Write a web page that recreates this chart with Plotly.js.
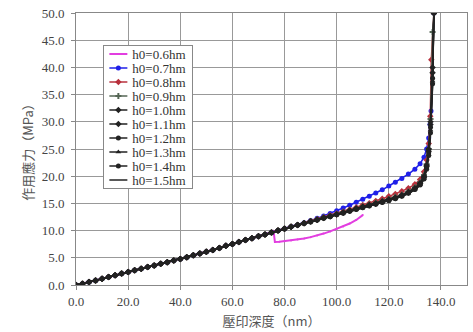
<!DOCTYPE html>
<html><head><meta charset="utf-8">
<script src="https://cdn.plot.ly/plotly-3.0.1.min.js"></script>
<style>
html,body{margin:0;padding:0;background:#fff;} #chart{width:473px;height:332px;}
/* compact legend glyphs (overrides Plotly's attributes) */
#chart .legend .legendtext{transform:translateX(-12px) !important;}
#chart .legend .legendlines path{d:path("M5,0h18") !important;}
#chart .legend .legendpoints path.scatterpts{transform:translate(14px,0px) !important;}
#chart .legend rect.bg{width:89px !important;height:143px !important;}
</style>
</head><body><div id="chart"></div>
<script>
// ---- data ----
const seriesNames = ['h0=0.6hm','h0=0.7hm','h0=0.8hm','h0=0.9hm','h0=1.0hm','h0=1.1hm','h0=1.2hm','h0=1.3hm','h0=1.4hm','h0=1.5hm'];

// common loading path shared by all series (depth nm, stress MPa)
const loadX = [0,2.5,5,7.5,10,12.5,15,17.5,20,22.5,25,27.5,30,32.5,35,37.5,40,42.5,45,47.5,50,52.5,55,57.5,60,62.5,65,67.5,70,72.5,75,77.5,80,82.5,85];
const loadY = [0,0.25,0.55,0.85,1.15,1.45,1.8,2.1,2.4,2.7,3.0,3.3,3.6,3.9,4.2,4.5,4.8,5.1,5.45,5.8,6.1,6.45,6.8,7.2,7.55,7.9,8.25,8.6,8.95,9.3,9.65,10.0,10.35,10.7,11.05];

// h0=0.6 : leaves the common path at 75 nm
const x06 = [75.8,76.3,78,80,82.5,85,87.5,90,92.5,95,97.5,100,102.5,105,107.5,110];
const y06 = [9.95,7.9,7.95,8.05,8.2,8.35,8.55,8.8,9.1,9.45,9.85,10.3,10.75,11.3,11.95,12.85];

// h0=0.7
const x07 = [87.5,90,92.5,95,97.5,100,102.5,105,107.5,110,112.5,115,117.5,120,122.5,125,127.5,130,132,133.5,134.5,135.3,135.8,136.2,137.3];
const y07 = [11.45,11.85,12.25,12.7,13.15,13.65,14.15,14.65,15.2,15.75,16.3,16.9,17.5,18.2,18.9,19.6,20.4,21.3,22.3,23.5,25.0,27.0,29.5,32.0,50.0];

// h0=0.8
const x08 = [87.5,90,92.5,95,97.5,100,102.5,105,107.5,110,112.5,115,117.5,120,122.5,125,127.5,130,132,133.5,134.5,135.3,135.9,136.3,137.3];
const y08 = [11.4,11.75,12.1,12.45,12.8,13.15,13.5,13.9,14.3,14.7,15.05,15.45,15.85,16.3,16.75,17.25,17.8,18.5,19.4,20.8,23.0,26.0,31.0,41.4,50.0];

// h0=0.9
const x09 = [87.5,90,92.5,95,97.5,100,102.5,105,107.5,110,112.5,115,117.5,120,122.5,125,127.5,130,132,133.5,134.5,135.3,136,136.8,137.3];
const y09 = [11.4,11.7,12.05,12.4,12.7,13.05,13.4,13.75,14.1,14.45,14.8,15.1,15.45,15.8,16.2,16.65,17.2,17.95,18.9,20.2,22.2,25.0,30.5,46.5,50.0];

// h0=1.0 ... 1.5 (nearly identical black curves)
const xThick = [87.5,90,92.5,95,97.5,100,102.5,105,107.5,110,112.5,115,117.5,120,122.5,125,127.5,130,132,133.5,134.5,135.3,136,136.8,137.3];
const y10 = [11.35,11.7,12.0,12.35,12.65,13.0,13.35,13.7,14.05,14.4,14.7,15.0,15.35,15.7,16.05,16.5,17.1,17.8,18.7,20.0,22.0,25.0,30.0,40.0,50.0];
const y11 = [11.35,11.65,12.0,12.3,12.65,12.95,13.3,13.65,14.0,14.35,14.65,14.95,15.3,15.65,16.0,16.45,17.0,17.7,18.6,19.8,21.8,24.6,29.5,39.0,50.0];
const y12 = [11.35,11.65,11.95,12.3,12.6,12.95,13.3,13.6,13.95,14.3,14.6,14.95,15.25,15.6,15.95,16.4,16.95,17.65,18.5,19.7,21.6,24.3,29.0,38.0,50.0];
const y13 = [11.3,11.65,11.95,12.25,12.6,12.9,13.25,13.6,13.9,14.25,14.55,14.9,15.2,15.55,15.9,16.35,16.9,17.6,18.45,19.6,21.5,24.0,28.5,37.5,50.0];
const y14 = [11.3,11.6,11.95,12.25,12.55,12.9,13.2,13.55,13.9,14.2,14.5,14.85,15.15,15.5,15.85,16.3,16.85,17.55,18.4,19.5,21.3,23.8,28.0,37.0,50.0];
const y15 = [11.3,11.6,11.9,12.2,12.55,12.85,13.2,13.5,13.85,14.15,14.5,14.8,15.1,15.45,15.8,16.25,16.8,17.5,18.35,19.4,21.2,23.6,27.5,36.5,50.0];

// ---- styles ----
const colors  = ['#e23ee0','#1f1fe8','#b8303c','#556655','#222','#222','#222','#222','#222','#222'];
const symbols = ['circle','circle','diamond','cross','diamond','diamond','circle','triangle-up','circle','line-ew'];
const msizes  = [2,5,5,5,5,5,5,5,5,0];
const lwidths = [2,1.5,1.5,1.5,1.5,1.5,1.5,1.5,1.5,1.5];

const xs = [loadX.slice(0,31).concat(x06), loadX.concat(x07), loadX.concat(x08), loadX.concat(x09),
            loadX.concat(xThick), loadX.concat(xThick), loadX.concat(xThick), loadX.concat(xThick), loadX.concat(xThick), loadX.concat(xThick)];
const ys = [loadY.slice(0,31).concat(y06), loadY.concat(y07), loadY.concat(y08), loadY.concat(y09),
            loadY.concat(y10), loadY.concat(y11), loadY.concat(y12), loadY.concat(y13), loadY.concat(y14), loadY.concat(y15)];

const traces = seriesNames.map((n,i)=>({
  type:'scatter', mode: msizes[i]>0 ? 'lines+markers' : 'lines', name:n,
  x:xs[i], y:ys[i],
  line:{color:colors[i], width:lwidths[i]},
  marker:{color:colors[i], symbol:symbols[i], size:msizes[i], line:{width:0}}
}));

const serif = '"Liberation Serif", "Times New Roman", "DejaVu Serif", serif';
const cjk = '"Noto Sans CJK TC", "Noto Sans CJK SC", sans-serif';
const axisCommon = {
  showgrid:true, gridcolor:'#999', gridwidth:1,
  showline:true, linecolor:'#888', linewidth:1, mirror:true,
  ticks:'outside', ticklen:4, tickcolor:'#888', zeroline:false, automargin:false,
  tickformat:'.1f', tickfont:{family:serif, size:13, color:'#444'}
};

const layout = {
  width:473, height:332,
  margin:{l:76, r:6, t:13, b:47},
  paper_bgcolor:'#fff', plot_bgcolor:'#fff',
  font:{family:serif, size:13, color:'#444'},
  showlegend:true,
  xaxis: Object.assign({}, axisCommon, {range:[0,150], tick0:0, dtick:20,
    title:{text:'壓印深度（nm）', font:{family:cjk, size:13, color:'#555'}, standoff:9}}),
  yaxis: Object.assign({}, axisCommon, {range:[0,50], tick0:0, dtick:5, ticklabelstandoff:4,
    title:{text:'作用應力（MPa）', font:{family:cjk, size:13, color:'#555'}, standoff:5}}),
  legend:{x:0.07, y:0.882, xanchor:'left', yanchor:'top', bgcolor:'#fff',
    bordercolor:'#888', borderwidth:1, tracegroupgap:0,
    font:{family:serif, size:13, color:'#333'}}
};

function tightenLegend(gd){
  // 14 px legend rows, as in the reference
  const leg = gd.querySelector('.legend');
  if(!leg) return;
  const items = leg.querySelectorAll('.traces');
  items.forEach((it,i)=>{
    it.style.setProperty('transform', 'translate(1px,' + (9 + i*14) + 'px)', 'important');
  });
}

Plotly.newPlot('chart', traces, layout, {displayModeBar:false, staticPlot:true}).then(gd=>{
  tightenLegend(gd);
  setTimeout(()=>tightenLegend(gd), 50);
  setTimeout(()=>tightenLegend(gd), 300);
});
</script></body></html>
